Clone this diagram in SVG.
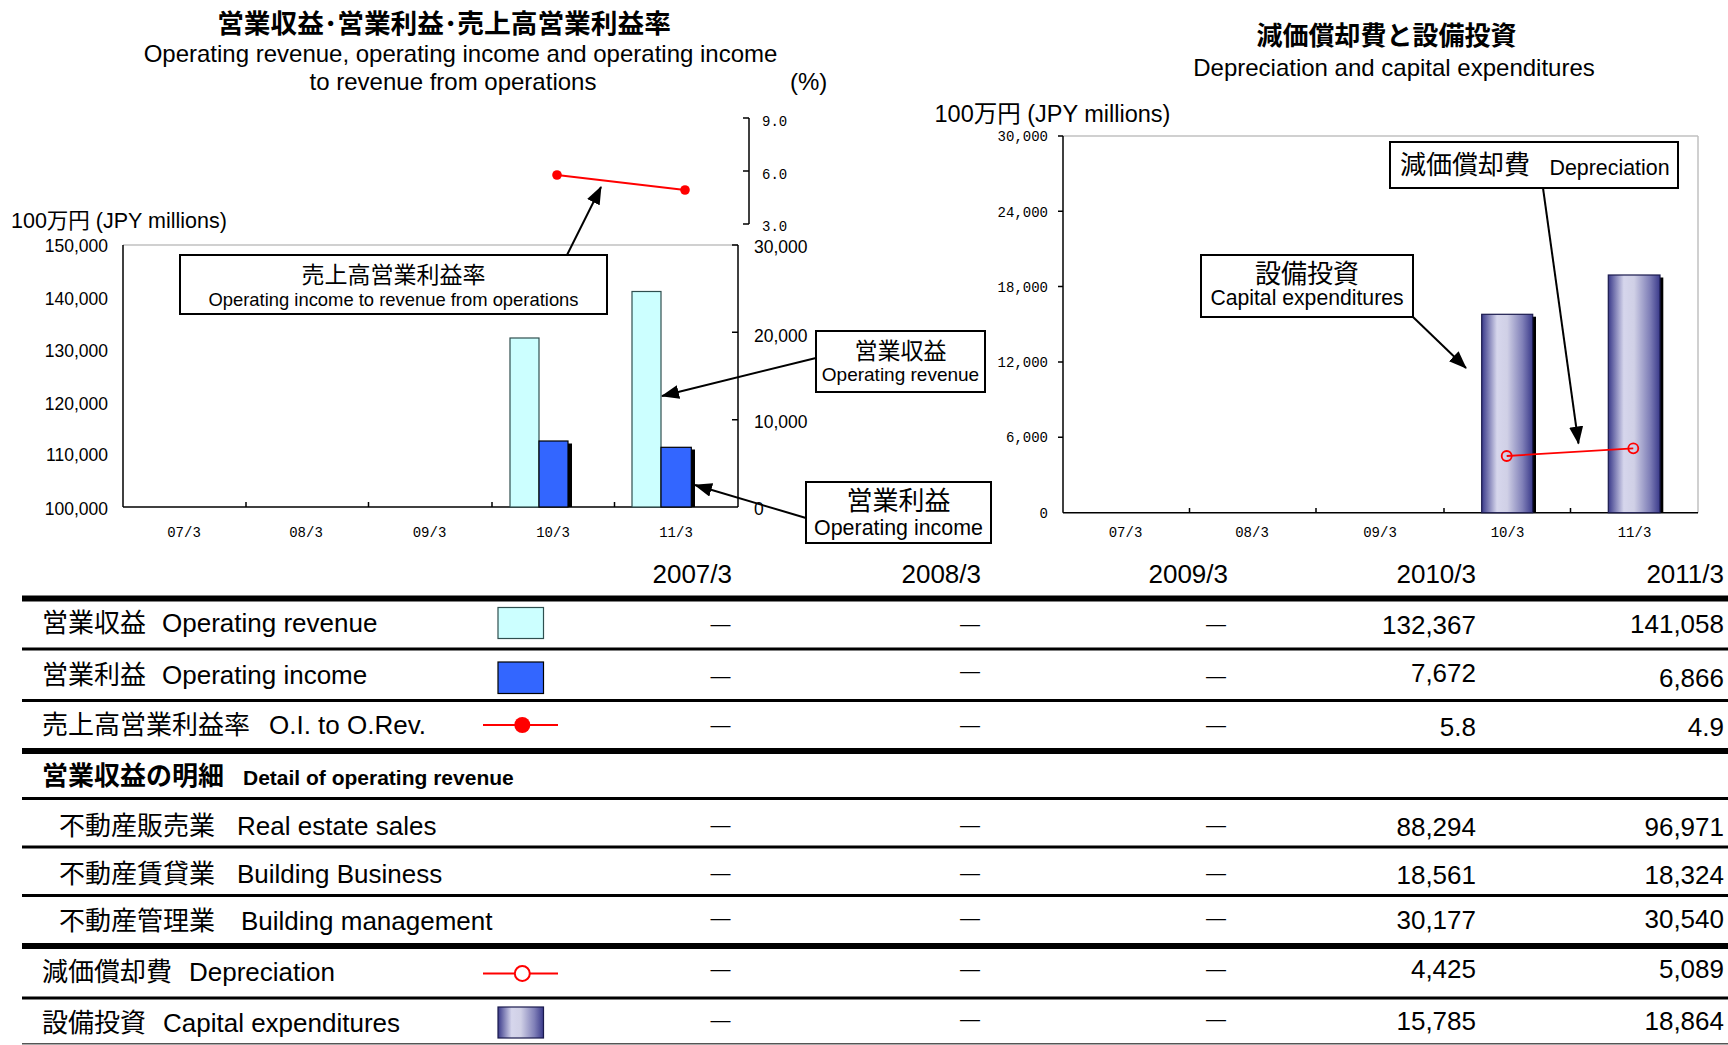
<svg xmlns="http://www.w3.org/2000/svg" width="1728" height="1045" viewBox="0 0 1728 1045">
<style>
text { font-family: "Liberation Sans", "Noto Sans CJK JP", sans-serif; fill: #000; }
.b { font-weight: bold; }
.mono { font-family: "Liberation Mono", "DejaVu Sans Mono", monospace; font-size: 14px; }
.ax { font-size: 17.5px; }
.tbl { font-size: 26px; }
.num { font-size: 26px; text-anchor: end; }
.dash { font-size: 20px; text-anchor: middle; }
.mid { text-anchor: middle; }
.end { text-anchor: end; }
.box { fill: #fff; stroke: #000; stroke-width: 2; }
.conn { stroke: #000; stroke-width: 2; fill: none; marker-end: url(#arr); }
.axis { stroke: #000; stroke-width: 1.5; fill: none; }
.grid { stroke: #c0c0c0; stroke-width: 1.5; fill: none; }
.rev { fill: #ccffff; stroke: #2f4f4f; stroke-width: 1.2; }
.inc { fill: #3366ff; stroke: #000; stroke-width: 1.2; }
.cap { fill: url(#capg); stroke: #1a1a4d; stroke-width: 1.2; }
.shadow { fill: #000; }
.red { stroke: #ff0000; stroke-width: 1.8; fill: none; }
</style>
<defs>
<marker id="arr" markerWidth="18" markerHeight="14" refX="17" refY="7" orient="auto" markerUnits="userSpaceOnUse">
<path d="M0,0 L18,7 L0,14 z" fill="#000"/>
</marker>
<linearGradient id="capg" x1="0" y1="0" x2="1" y2="0">
<stop offset="0" stop-color="#3a3a8a"/>
<stop offset="0.3" stop-color="#d6d6ec"/>
<stop offset="0.5" stop-color="#d0d0e6"/>
<stop offset="0.8" stop-color="#8080b8"/>
<stop offset="1" stop-color="#3a3a8a"/>
</linearGradient>
</defs>
<rect width="1728" height="1045" fill="#fff"/>

<!-- Left chart -->
<g id="chart-left">
<text class="b mid" x="444" y="33" font-size="26.7">営業収益･営業利益･売上高営業利益率</text>
<text class="mid" x="460.5" y="61.5" font-size="24">Operating revenue, operating income and operating income</text>
<text class="mid" x="453" y="89.5" font-size="24">to revenue from operations</text>
<text x="790" y="89.5" font-size="24">(%)</text>
<text x="11" y="228" font-size="21.5">100万円 (JPY millions)</text>
<!-- percent axis -->
<line class="axis" x1="749" y1="118" x2="749" y2="224"/>
<path class="axis" d="M743,118 H749 M743,171 H749 M743,224 H749"/>
<text class="mono" x="762" y="126" font-size="13">9.0</text>
<text class="mono" x="762" y="178.5" font-size="13">6.0</text>
<text class="mono" x="762" y="231" font-size="13">3.0</text>
<!-- plot frame -->
<line class="grid" x1="123" y1="245" x2="738" y2="245"/>
<line class="axis" x1="123" y1="245" x2="123" y2="507"/>
<line class="axis" x1="738" y1="245" x2="738" y2="507"/>
<line class="axis" x1="123" y1="507" x2="738" y2="507"/>
<path class="axis" d="M732,245 H738 M732,332.3 H738 M732,419.7 H738 M246,507 V502 M368.5,507 V502 M492,507 V502 M614.5,507 V502"/>
<text class="ax end" x="108" y="252">150,000</text>
<text class="ax end" x="108" y="304.6">140,000</text>
<text class="ax end" x="108" y="357">130,000</text>
<text class="ax end" x="108" y="409.6">120,000</text>
<text class="ax end" x="108" y="461.3">110,000</text>
<text class="ax end" x="108" y="514.6">100,000</text>
<text class="ax" x="754" y="253">30,000</text>
<text class="ax" x="754" y="342">20,000</text>
<text class="ax" x="754" y="428">10,000</text>
<text class="ax" x="754" y="514.5">0</text>
<text class="mono mid" x="184" y="537">07/3</text>
<text class="mono mid" x="306" y="537">08/3</text>
<text class="mono mid" x="429.5" y="537">09/3</text>
<text class="mono mid" x="553" y="537">10/3</text>
<text class="mono mid" x="676" y="537">11/3</text>
<!-- bars -->
<rect class="rev" x="510" y="338" width="29" height="169"/>
<rect class="shadow" x="543" y="443.5" width="29" height="63.5"/>
<rect class="inc" x="539" y="441" width="29" height="66"/>
<rect class="rev" x="632" y="291.5" width="29" height="215.5"/>
<rect class="shadow" x="665" y="449.5" width="30" height="57.5"/>
<rect class="inc" x="661" y="447.3" width="30.3" height="59.7"/>
<!-- ratio line -->
<line class="red" x1="557" y1="175" x2="685" y2="190"/>
<circle cx="557" cy="175" r="4.8" fill="#ff0000"/>
<circle cx="685" cy="190" r="4.8" fill="#ff0000"/>
</g>

<!-- Right chart -->
<g id="chart-right">
<text class="b mid" x="1386.5" y="45" font-size="26">減価償却費と設備投資</text>
<text class="mid" x="1394" y="76" font-size="24">Depreciation and capital expenditures</text>
<text x="934.5" y="122" font-size="23.5">100万円 (JPY millions)</text>
<line class="grid" x1="1063" y1="136" x2="1698" y2="136"/>
<line class="grid" x1="1698" y1="136" x2="1698" y2="512.7"/>
<line class="axis" x1="1063" y1="136" x2="1063" y2="512.7"/>
<line class="axis" x1="1063" y1="512.7" x2="1698" y2="512.7"/>
<path class="axis" d="M1058,136 H1063 M1058,211.3 H1063 M1058,286.6 H1063 M1058,362 H1063 M1058,437.3 H1063 M1189.5,512.7 V508 M1316,512.7 V508 M1444,512.7 V508 M1570.5,512.7 V508"/>
<text class="mono end" x="1048" y="141">30,000</text>
<text class="mono end" x="1048" y="217">24,000</text>
<text class="mono end" x="1048" y="292">18,000</text>
<text class="mono end" x="1048" y="367">12,000</text>
<text class="mono end" x="1048" y="442">6,000</text>
<text class="mono end" x="1048" y="517.5">0</text>
<text class="mono mid" x="1125.5" y="537">07/3</text>
<text class="mono mid" x="1252" y="537">08/3</text>
<text class="mono mid" x="1380" y="537">09/3</text>
<text class="mono mid" x="1507.5" y="537">10/3</text>
<text class="mono mid" x="1634.5" y="537">11/3</text>
<rect class="shadow" x="1485.5" y="316.7" width="50.5" height="196"/>
<rect class="cap" x="1481.7" y="314.3" width="51" height="198.4"/>
<rect class="shadow" x="1612" y="277.5" width="51.3" height="235.2"/>
<rect class="cap" x="1608.3" y="275" width="51.7" height="237.7"/>
<line class="red" x1="1506.7" y1="456" x2="1633.3" y2="448.3"/>
<circle class="red" cx="1506.7" cy="456" r="5"/>
<circle class="red" cx="1633.3" cy="448.3" r="5"/>
</g>

<!-- Callout nodes -->
<g id="callout-ratio">
<rect class="box" x="180" y="255" width="427" height="59"/>
<text class="mid" x="393.5" y="283" font-size="23">売上高営業利益率</text>
<text class="mid" x="393.5" y="306" font-size="18.4">Operating income to revenue from operations</text>
</g>
<g id="callout-revenue">
<rect class="box" x="816" y="331" width="169" height="61"/>
<text class="mid" x="900.5" y="359" font-size="23">営業収益</text>
<text class="mid" x="900.5" y="381" font-size="19">Operating revenue</text>
</g>
<g id="callout-income">
<rect class="box" x="806" y="482" width="185" height="61"/>
<text class="mid" x="898.5" y="510" font-size="26">営業利益</text>
<text class="mid" x="898.5" y="535" font-size="21.4">Operating income</text>
</g>
<g id="callout-depreciation">
<rect class="box" x="1390" y="142" width="288" height="46"/>
<text x="1400" y="174" font-size="26">減価償却費</text>
<text x="1549.5" y="175" font-size="21.4">Depreciation</text>
</g>
<g id="callout-capex">
<rect class="box" x="1201" y="255" width="212" height="62"/>
<text class="mid" x="1307" y="283" font-size="26">設備投資</text>
<text class="mid" x="1307" y="305" font-size="21.2">Capital expenditures</text>
</g>

<!-- Connectors -->
<g id="connectors">
<line class="conn" x1="567" y1="255" x2="601" y2="187"/>
<line class="conn" x1="816" y1="358" x2="662" y2="396"/>
<line class="conn" x1="806" y1="518" x2="695" y2="485"/>
<line class="conn" x1="1413" y1="317" x2="1466" y2="368"/>
<line class="conn" x1="1543" y1="188" x2="1578.5" y2="443.5"/>
</g>

<!-- Table -->
<g id="table">
<text class="num" x="732" y="583">2007/3</text>
<text class="num" x="981" y="583">2008/3</text>
<text class="num" x="1228" y="583">2009/3</text>
<text class="num" x="1476" y="583">2010/3</text>
<text class="num" x="1724" y="583">2011/3</text>

<rect x="22" y="595.5" width="1706" height="6"/>
<rect x="22" y="647.5" width="1706" height="3"/>
<rect x="22" y="699" width="1706" height="3"/>
<rect x="22" y="748" width="1706" height="6"/>
<rect x="22" y="797" width="1706" height="3"/>
<rect x="22" y="845.5" width="1706" height="3"/>
<rect x="22" y="894" width="1706" height="3"/>
<rect x="22" y="943" width="1706" height="6"/>
<rect x="22" y="996.5" width="1706" height="3"/>
<rect x="22" y="1043" width="1706" height="1.5" fill="#555"/>

<text class="tbl" x="42" y="632">営業収益<tspan x="162">Operating revenue</tspan></text>
<text class="tbl" x="42" y="684">営業利益<tspan x="162">Operating income</tspan></text>
<text class="tbl" x="42" y="734">売上高営業利益率<tspan x="269">O.I. to O.Rev.</tspan></text>
<text class="tbl b" x="42" y="785">営業収益の明細<tspan x="243" font-size="21">Detail of operating revenue</tspan></text>
<text class="tbl" x="59" y="835">不動産販売業<tspan x="237">Real estate sales</tspan></text>
<text class="tbl" x="59" y="883">不動産賃貸業<tspan x="237">Building Business</tspan></text>
<text class="tbl" x="59" y="930">不動産管理業<tspan x="241">Building management</tspan></text>
<text class="tbl" x="42" y="981">減価償却費<tspan x="189">Depreciation</tspan></text>
<text class="tbl" x="42" y="1032">設備投資<tspan x="163">Capital expenditures</tspan></text>

<!-- legend symbols -->
<rect class="rev" x="498" y="607.5" width="45.5" height="31" stroke="#333" stroke-width="2"/>
<rect class="inc" x="498" y="662" width="45.5" height="31.5" stroke="#222" stroke-width="2"/>
<line x1="483" y1="725" x2="558" y2="725" stroke="#ff0000" stroke-width="2.2"/>
<circle cx="522.3" cy="725" r="8" fill="#ff0000"/>
<line x1="483" y1="973.5" x2="558" y2="973.5" stroke="#ff0000" stroke-width="2.2"/>
<circle cx="522.3" cy="973.5" r="7.5" fill="#fff" stroke="#ff0000" stroke-width="2"/>
<rect class="cap" x="498" y="1007" width="45.5" height="31" stroke="#111" stroke-width="2"/>

<!-- dashes -->
<text class="dash" x="720.5" y="631">—</text><text class="dash" x="970" y="630.5">—</text><text class="dash" x="1216" y="630.5">—</text>
<text class="dash" x="720.5" y="683">—</text><text class="dash" x="970" y="678">—</text><text class="dash" x="1216" y="683">—</text>
<text class="dash" x="720.5" y="732">—</text><text class="dash" x="970" y="732">—</text><text class="dash" x="1216" y="732">—</text>
<text class="dash" x="720.5" y="831.5">—</text><text class="dash" x="970" y="831.5">—</text><text class="dash" x="1216" y="831.5">—</text>
<text class="dash" x="720.5" y="880">—</text><text class="dash" x="970" y="880">—</text><text class="dash" x="1216" y="880">—</text>
<text class="dash" x="720.5" y="925">—</text><text class="dash" x="970" y="925">—</text><text class="dash" x="1216" y="925">—</text>
<text class="dash" x="720.5" y="976">—</text><text class="dash" x="970" y="976">—</text><text class="dash" x="1216" y="976">—</text>
<text class="dash" x="720.5" y="1027">—</text><text class="dash" x="970" y="1026">—</text><text class="dash" x="1216" y="1026">—</text>

<!-- values -->
<text class="num" x="1476" y="634">132,367</text><text class="num" x="1724" y="633">141,058</text>
<text class="num" x="1476" y="682">7,672</text><text class="num" x="1724" y="687">6,866</text>
<text class="num" x="1476" y="735.5">5.8</text><text class="num" x="1724" y="735.5">4.9</text>
<text class="num" x="1476" y="836">88,294</text><text class="num" x="1724" y="836">96,971</text>
<text class="num" x="1476" y="883.5">18,561</text><text class="num" x="1724" y="883.5">18,324</text>
<text class="num" x="1476" y="928.5">30,177</text><text class="num" x="1724" y="928">30,540</text>
<text class="num" x="1476" y="978">4,425</text><text class="num" x="1724" y="978">5,089</text>
<text class="num" x="1476" y="1030">15,785</text><text class="num" x="1724" y="1030">18,864</text>
</g>
</svg>
